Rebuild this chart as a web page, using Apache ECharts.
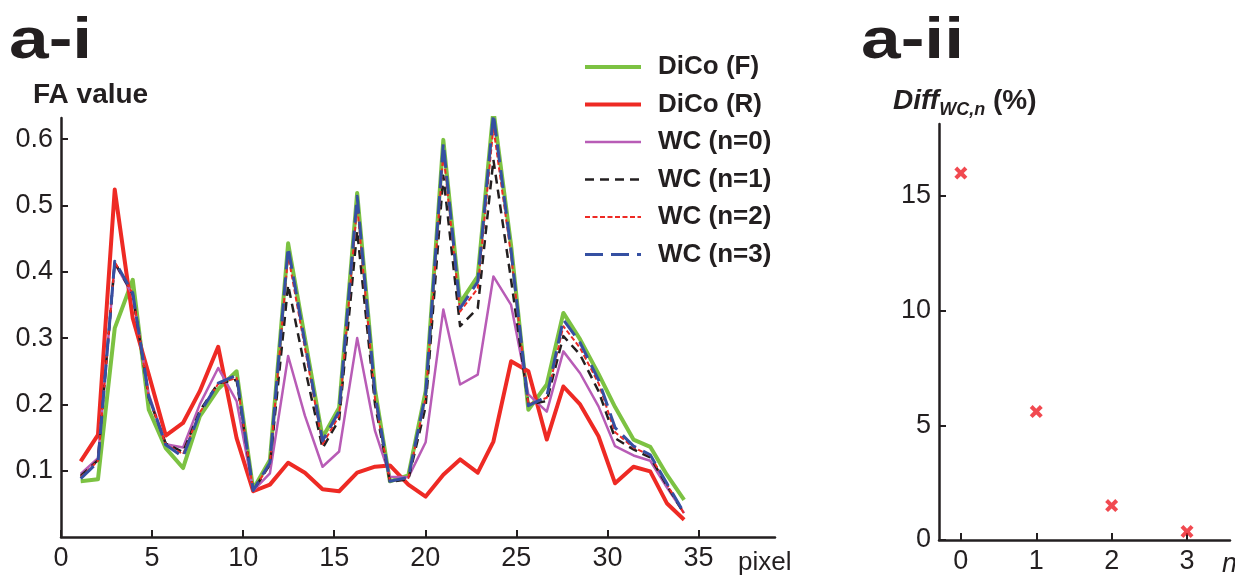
<!DOCTYPE html>
<html>
<head>
<meta charset="utf-8">
<script src="https://cdn.jsdelivr.net/npm/echarts@6/dist/echarts.min.js"></script>
<style>
  html, body { margin: 0; padding: 0; background: #fff; }
  #chart { width: 1235px; height: 576px; }
</style>
</head>
<body>
<div id="chart"></div>
<script>
// sample positions along the profile (pixel axis units)
const pixelPos = [1.08, 2.03, 2.95, 3.94, 4.82, 5.75, 6.70, 7.62, 8.63, 9.64,
  10.55, 11.47, 12.47, 13.39, 14.36, 15.27, 16.26, 17.24, 18.06, 19.07,
  20.02, 20.99, 21.91, 22.88, 23.74, 24.71, 25.66, 26.67, 27.58, 28.50,
  29.51, 30.42, 31.43, 32.35, 33.26, 34.21];

const dicoF = [0.084, 0.087, 0.315, 0.388, 0.192, 0.134, 0.104, 0.182, 0.223, 0.250,
  0.072, 0.116, 0.443, 0.300, 0.150, 0.195, 0.519, 0.222, 0.084, 0.093,
  0.220, 0.599, 0.353, 0.393, 0.644, 0.440, 0.192, 0.230, 0.338, 0.298,
  0.246, 0.196, 0.147, 0.136, 0.094, 0.056];

const dicoR = [0.114, 0.154, 0.524, 0.330, 0.245, 0.153, 0.172, 0.220, 0.287, 0.149,
  0.069, 0.079, 0.112, 0.097, 0.072, 0.069, 0.097, 0.106, 0.108, 0.079,
  0.061, 0.094, 0.117, 0.097, 0.144, 0.265, 0.250, 0.147, 0.227, 0.200,
  0.152, 0.081, 0.106, 0.099, 0.051, 0.026];

const wc0 = [0.095, 0.119, 0.413, 0.365, 0.215, 0.140, 0.135, 0.200, 0.255, 0.205,
  0.070, 0.096, 0.273, 0.183, 0.106, 0.129, 0.300, 0.160, 0.091, 0.090,
  0.143, 0.343, 0.230, 0.245, 0.393, 0.350, 0.215, 0.189, 0.280, 0.247,
  0.197, 0.137, 0.123, 0.115, 0.075, 0.036];

const wc1 = [0.092, 0.116, 0.414, 0.366, 0.210, 0.141, 0.128, 0.190, 0.232, 0.237,
  0.070, 0.109, 0.380, 0.255, 0.134, 0.177, 0.462, 0.200, 0.083, 0.087,
  0.197, 0.545, 0.318, 0.345, 0.569, 0.388, 0.200, 0.205, 0.303, 0.275,
  0.220, 0.149, 0.132, 0.120, 0.078, 0.035];

const wc2 = [0.090, 0.115, 0.415, 0.367, 0.211, 0.140, 0.125, 0.188, 0.231, 0.240,
  0.070, 0.110, 0.425, 0.285, 0.140, 0.183, 0.500, 0.208, 0.084, 0.089,
  0.210, 0.580, 0.340, 0.375, 0.618, 0.425, 0.200, 0.210, 0.318, 0.285,
  0.232, 0.158, 0.135, 0.123, 0.080, 0.035];

const wc3 = [0.088, 0.113, 0.416, 0.368, 0.212, 0.139, 0.121, 0.187, 0.232, 0.244,
  0.070, 0.112, 0.437, 0.293, 0.145, 0.190, 0.514, 0.215, 0.084, 0.090,
  0.215, 0.594, 0.345, 0.385, 0.638, 0.432, 0.198, 0.212, 0.328, 0.293,
  0.237, 0.165, 0.137, 0.124, 0.081, 0.036];

const pixelTicks = [0, 5, 10, 15, 20, 25, 30, 35];
const faTicks = [0.1, 0.2, 0.3, 0.4, 0.5, 0.6];

const diffN = [0, 1, 2, 3];
const diffVal = [16.0, 5.6, 1.5, 0.37];
const diffTicks = [0, 5, 10, 15];

const font = "'Liberation Sans', Arial, Helvetica, sans-serif";
const ink = "#231f20";

const chart = echarts.init(document.getElementById("chart"));

function zip(ys) {
  return pixelPos.map((x, i) => [x, ys[i]]);
}

function lineSeries(name, ys, color, width, type) {
  return {
    name: name,
    type: "line",
    xAxisIndex: 0,
    yAxisIndex: 0,
    data: zip(ys),
    symbol: "none",
    silent: true,
    lineStyle: { color: color, width: width, type: type || "solid", join: "round" },
    itemStyle: { color: color },
  };
}

function axisCommon(ticks) {
  return {
    axisLine: { show: true, onZero: false, lineStyle: { color: ink, width: 2.5 } },
    axisTick: { show: true, inside: true, length: 7, customValues: ticks, lineStyle: { color: ink, width: 2 } },
    axisLabel: { customValues: ticks, color: ink, fontSize: 27, fontFamily: font },
    splitLine: { show: false },
  };
}

const xCross = "path://M2.2,0 L5,2.8 L7.8,0 L10,2.2 L7.2,5 L10,7.8 L7.8,10 L5,7.2 L2.2,10 L0,7.8 L2.8,5 L0,2.2 Z";

chart.setOption({
  animation: false,
  backgroundColor: "#fff",
  legend: {
    orient: "vertical",
    left: 578,
    top: 47,
    itemWidth: 56,
    itemHeight: 14,
    itemGap: 7.5,
    itemStyle: { opacity: 0 },
    lineStyle: { width: "inherit" },
    data: ["DiCo (F)", "DiCo (R)", "WC (n=0)", "WC (n=1)", "WC (n=2)", "WC (n=3)"],
    textStyle: { fontSize: 26, fontWeight: "bold", color: ink, fontFamily: font, lineHeight: 30, padding: [0, 0, 0, 12] },
  },
  grid: [
    { left: 61, top: 118, right: 460, bottom: 39, outerBoundsMode: "none" },
    { left: 939, top: 124, right: 5, bottom: 36, outerBoundsMode: "none" },
  ],
  xAxis: [
    Object.assign(axisCommon(pixelTicks), {
      type: "value", gridIndex: 0, min: 0, max: 39.2,
      name: "pixel", nameLocation: "end", nameGap: -37,
      nameTextStyle: { fontSize: 26, color: ink, fontFamily: font, align: "left", verticalAlign: "top", padding: [13, 0, 0, 0] },
    }),
    Object.assign(axisCommon(diffN), {
      type: "value", gridIndex: 1, min: -0.29, max: 3.57,
      name: "n", nameLocation: "end", nameGap: -8,
      nameTextStyle: { fontSize: 27, fontStyle: "italic", color: ink, fontFamily: font, align: "left", verticalAlign: "top", padding: [11, 0, 0, 0] },
    }),
  ],
  yAxis: [
    Object.assign(axisCommon(faTicks), {
      type: "value", gridIndex: 0, min: 0, max: 0.632,
    }),
    Object.assign(axisCommon(diffTicks), {
      type: "value", gridIndex: 1, min: 0, max: 18.14,
    }),
  ],
  graphic: [
    {
      type: "text", left: 9, top: 14, scaleX: 1.25,
      style: { text: "a-i", fontSize: 57, fontWeight: "bold", fill: ink, fontFamily: font },
    },
    {
      type: "text", left: 861, top: 14, scaleX: 1.25,
      style: { text: "a-ii", fontSize: 57, fontWeight: "bold", fill: ink, fontFamily: font },
    },
    {
      type: "text", left: 33, top: 81,
      style: { text: "FA value", fontSize: 28, fontWeight: "bold", fill: ink, fontFamily: font },
    },
    {
      type: "text", left: 893, top: 87,
      style: {
        text: "{a|Diff}{b|WC,n}{c| (%)}",
        fill: ink,
        fontFamily: font,
        rich: {
          a: { fontSize: 28, fontWeight: "bold", fontStyle: "italic", fontFamily: font, lineHeight: 32, verticalAlign: "top" },
          b: { fontSize: 18, fontWeight: "bold", fontStyle: "italic", fontFamily: font, lineHeight: 18, verticalAlign: "bottom" },
          c: { fontSize: 28, fontWeight: "bold", fontFamily: font, lineHeight: 32, verticalAlign: "top" },
        },
      },
    },
  ],
  series: [
    lineSeries("DiCo (F)", dicoF, "#7cc242", 4),
    lineSeries("DiCo (R)", dicoR, "#ee2a24", 4),
    lineSeries("WC (n=0)", wc0, "#b85cb6", 2.5),
    lineSeries("WC (n=1)", wc1, ink, 2.5, [9, 6]),
    lineSeries("WC (n=2)", wc2, "#ee2a24", 2, [5, 2.5]),
    lineSeries("WC (n=3)", wc3, "#3550a2", 3, [18, 8]),
    {
      name: "Diff",
      type: "scatter",
      xAxisIndex: 1,
      yAxisIndex: 1,
      data: diffN.map((n, i) => [n, diffVal[i]]),
      symbol: xCross,
      symbolSize: 13,
      itemStyle: { color: "#ee1c24" },
    },
  ],
});
</script>
</body>
</html>
